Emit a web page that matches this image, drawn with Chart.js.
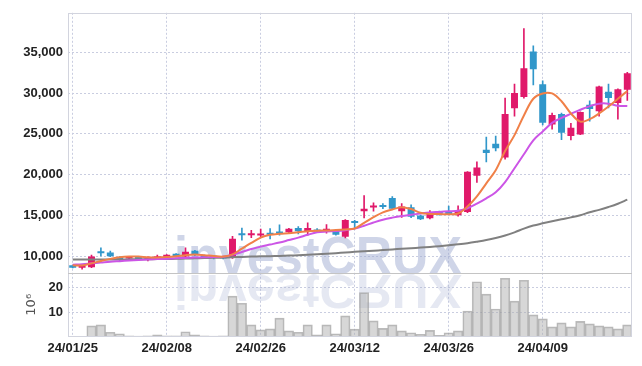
<!DOCTYPE html>
<html>
<head>
<meta charset="utf-8">
<script src="https://cdn.jsdelivr.net/npm/chart.js@4.4.1/dist/chart.umd.min.js"></script>
<style>
  html, body { margin: 0; padding: 0; background: #fff; }
  #cadre { width: 642px; height: 366px; }
</style>
</head>
<body>
<div id="cadre"><canvas id="graphe"></canvas></div>
<script>
// ---- DONNÉES ----
const dates = [
  '24/01/25', '24/01/26', '24/01/29', '24/01/30', '24/01/31', '24/02/01', '24/02/02', '24/02/05', '24/02/06', '24/02/07',
  '24/02/08', '24/02/13', '24/02/14', '24/02/15', '24/02/16', '24/02/19', '24/02/20', '24/02/21', '24/02/22', '24/02/23',
  '24/02/26', '24/02/27', '24/02/28', '24/02/29', '24/03/04', '24/03/05', '24/03/06', '24/03/07', '24/03/08', '24/03/11',
  '24/03/12', '24/03/13', '24/03/14', '24/03/15', '24/03/18', '24/03/19', '24/03/20', '24/03/21', '24/03/22', '24/03/25',
  '24/03/26', '24/03/27', '24/03/28', '24/03/29', '24/04/01', '24/04/02', '24/04/03', '24/04/04', '24/04/05', '24/04/08',
  '24/04/09', '24/04/11', '24/04/12', '24/04/15', '24/04/16', '24/04/17', '24/04/18', '24/04/19', '24/04/22', '24/04/23'
]

const ouvertures = [
  8920, 8620, 8660, 10560, 10480, 9930, 9760, 9960, 9650, 9780,
  9880, 10330, 10000, 10700, 10120, 10000, 9980, 9800, 12750, 12580,
  12550, 12750, 12950, 12950, 13480, 13000, 13280, 13150, 13200, 12400,
  14200, 15520, 16000, 16150, 17150, 15520, 16030, 15000, 14680, 15380,
  15550, 15050, 15450, 19880, 23050, 23800, 22100, 28130, 29500, 35090,
  31080, 26140, 27440, 24730, 24930, 28570, 27770, 30150, 28770, 30390
]
const hauts = [
  8950, 8850, 10150, 11050, 10650, 9980, 9950, 10000, 9950, 10150,
  10220, 10350, 11050, 10750, 10150, 10050, 10000, 12450, 13480, 13200,
  13350, 13400, 13880, 13450, 13650, 14100, 13400, 13900, 13250, 14500,
  14420, 17450, 16550, 16480, 17330, 16480, 16300, 15050, 15600, 15550,
  16150, 16200, 20400, 21580, 24610, 24730, 29380, 31080, 37900, 35780,
  31500, 27560, 27560, 26300, 27700, 29050, 30850, 31080, 30500, 32540
]
const bas = [
  8600, 8450, 8630, 10050, 9980, 9450, 9700, 9620, 9450, 9700,
  9860, 9950, 9900, 10050, 9780, 9700, 9700, 9750, 12000, 12300,
  12400, 12150, 12600, 12850, 12750, 12600, 12950, 12850, 12600, 12250,
  13520, 14700, 15550, 15830, 15800, 14780, 14750, 14500, 14600, 15050,
  15100, 14920, 15350, 19070, 21580, 22910, 21890, 27160, 29380, 31000,
  26100, 25580, 24300, 24250, 24900, 26550, 27160, 28170, 26800, 29100
]
const clotures = [
  8620, 8720, 10000, 10400, 10030, 9620, 9880, 9660, 9800, 9880,
  10200, 10000, 10580, 10250, 9820, 9850, 9760, 12150, 12600, 12750,
  12800, 12650, 12800, 13400, 13080, 13480, 13050, 13350, 12650, 14450,
  14080, 15820, 16220, 16050, 15850, 16100, 14850, 14560, 15330, 15230,
  15180, 15550, 20350, 20890, 22650, 23230, 27440, 29990, 33020, 32900,
  26350, 27310, 25130, 25740, 27680, 28050, 30800, 29380, 30470, 32410
]

// volumes en millions
const volumes = [
  0, 0, 4.5, 4.9, 1.9, 1.3, 0.5, 0.4, 0.5, 0.9,
  0.5, 0.5, 2.1, 0.9, 0.5, 0.4, 0.5, 16.5, 13.6, 4.9,
  2.9, 3.3, 7.6, 2.5, 1.9, 4.9, 0.9, 4.9, 1.3, 8.5,
  3.2, 17.9, 6.5, 3.5, 4.9, 2.5, 1.7, 1.1, 2.7, 0.7,
  1.7, 2.5, 10.5, 22.3, 17.3, 11.3, 23.7, 14.5, 22.9, 8.9,
  7.3, 4.1, 5.7, 4.1, 6.3, 5.3, 4.5, 4.1, 3.3, 4.9
]

// moyennes mobiles (orange, violet, gris)
const mm5 = [
  8920, 8900, 9150, 9450, 9700, 9900, 9990, 9980, 9900, 9880,
  9930, 10020, 10150, 10220, 10150, 10050, 9980, 10250, 10950, 11650,
  12300, 12650, 12780, 12850, 12950, 13080, 13150, 13180, 13220, 13300,
  13420, 14100, 14800, 15400, 15750, 16030, 15800, 15350, 15200, 15180,
  15150, 15250, 16100, 17350, 18950, 20550, 22900, 24850, 27250, 29300,
  29950, 29950, 29000, 27500, 26500, 26800, 27500, 28350, 29300, 30250
]
const mm10 = [
  8980, 9050, 9150, 9250, 9350, 9420, 9490, 9550, 9610, 9670,
  9720, 9770, 9820, 9860, 9890, 9920, 9960, 10200, 10550, 10900,
  11200, 11450, 11700, 12000, 12300, 12650, 12950, 13050, 13100, 13200,
  13400, 13750, 14150, 14500, 14750, 14950, 15100, 15250, 15380, 15450,
  15520, 15600, 15900, 16450, 17100, 17850, 19100, 20800, 22500, 24200,
  25300, 26350, 26950, 27450, 27950, 28400, 28700, 28700, 28450, 28400
]
const mm60 = [
  9620, 9620, 9620, 9620, 9625, 9630, 9640, 9650, 9660, 9670,
  9690, 9710, 9740, 9770, 9800, 9830, 9860, 9900, 9940, 9980,
  10010, 10030, 10060, 10100, 10150, 10200, 10260, 10330, 10400, 10480,
  10560, 10630, 10700, 10780, 10860, 10940, 11000, 11080, 11160, 11250,
  11360, 11480, 11620, 11800, 12000, 12250, 12560, 12950, 13400, 13780,
  14050, 14300, 14550, 14780, 15050, 15400, 15700, 16050, 16450, 16950
]

const ticksPrix = [10000, 15000, 20000, 25000, 30000, 35000]
const ticksVolume = [10, 20]

// ---- COULEURS ----
const rouge = '#e0196a'
const bleu = '#3197ca'
const couleurs = clotures.map((c, i) => c >= ouvertures[i] ? rouge : bleu)
const grille = '#c9cde0'
const policeAxe = { family: "'Liberation Sans', Arial, sans-serif", size: 13, weight: 'bold' }

// ---- FILIGRANE + CADRE ----
const filigrane = {
  id: 'filigrane',
  beforeDatasetsDraw(chart) {
    const { ctx, chartArea: a } = chart
    const texte = 'investCRUX'
    ctx.save()
    ctx.beginPath()
    ctx.rect(a.left, a.top, a.width, a.height)
    ctx.clip()
    ctx.font = "bold 53px 'Liberation Sans', Arial, sans-serif"
    const largeur = ctx.measureText(texte).width
    ctx.translate(a.left + 106, chart.scales.y.bottom + 1)
    ctx.scale(288 / largeur, 1)
    ctx.fillStyle = 'rgba(160, 172, 210, 0.5)'
    ctx.fillText(texte, 0, 0)
    ctx.scale(1, -0.92)
    ctx.fillStyle = 'rgba(160, 172, 210, 0.28)'
    ctx.fillText(texte, 0, -2)
    ctx.restore()
  },
  afterDatasetsDraw(chart) {
    const { ctx, chartArea: a } = chart
    const bas = Math.round(chart.scales.y.bottom) + 0.5
    ctx.save()
    ctx.lineWidth = 1
    ctx.strokeStyle = '#d2d4de'
    ctx.strokeRect(Math.round(a.left) + 0.5, Math.round(a.top) + 0.5, Math.round(a.width) - 1, Math.round(a.height) - 1)
    ctx.strokeStyle = '#c4c4c4'
    ctx.beginPath()
    ctx.moveTo(a.left, bas)
    ctx.lineTo(a.right, bas)
    ctx.stroke()
    ctx.restore()
  }
}

// ---- GRAPHIQUE ----
new Chart(document.getElementById('graphe'), {
  type: 'bar',
  data: {
    labels: dates,
    datasets: [
      {
        type: 'line', label: 'MA5', data: mm5, yAxisID: 'y', order: 1,
        borderColor: '#f08048', borderWidth: 2, pointRadius: 0, tension: 0.35
      },
      {
        type: 'line', label: 'MA10', data: mm10, yAxisID: 'y', order: 1,
        borderColor: '#cc55e6', borderWidth: 2, pointRadius: 0, tension: 0.35
      },
      {
        type: 'line', label: 'MA60', data: mm60, yAxisID: 'y', order: 1,
        borderColor: '#808080', borderWidth: 2, pointRadius: 0, tension: 0.35
      },
      {
        label: 'corps', data: dates.map((d, i) => [ouvertures[i], clotures[i]]), yAxisID: 'y', order: 2,
        backgroundColor: couleurs, grouped: false, categoryPercentage: 1, barPercentage: 0.74, minBarLength: 2
      },
      {
        label: 'mèches', data: dates.map((d, i) => [bas[i], hauts[i]]), yAxisID: 'y', order: 3,
        backgroundColor: couleurs, grouped: false, barThickness: 1
      },
      {
        label: 'volume', data: volumes, yAxisID: 'yv', order: 4,
        backgroundColor: 'rgba(175, 175, 175, 0.5)', borderColor: 'rgba(150, 150, 150, 0.65)', borderWidth: 1,
        grouped: false, categoryPercentage: 1, barPercentage: 1
      }
    ]
  },
  options: {
    responsive: true,
    maintainAspectRatio: false,
    animation: false,
    layout: { padding: { top: 9, right: 10, left: 0, bottom: 0 } },
    plugins: { legend: { display: false }, tooltip: { enabled: false } },
    scales: {
      x: {
        offset: true,
        grid: { offset: false, color: grille, drawTicks: false },
        border: { display: false, dash: [2, 2] },
        ticks: {
          autoSkip: false, maxRotation: 0, padding: 4, color: '#222', font: policeAxe,
          callback: (v, i) => i % 10 === 0 ? dates[i] : null
        },
        afterFit: s => { s.height = 29 }
      },
      // le volume est déclaré avant le prix pour que le prix soit placé en haut
      yv: {
        position: 'left', stack: 'panneaux', stackWeight: 65,
        min: 0, max: 26,
        grid: { color: grille, drawTicks: false },
        border: { display: false, dash: [2, 2] },
        ticks: { padding: 5, color: '#222', font: policeAxe },
        afterBuildTicks: s => { s.ticks = ticksVolume.map(v => ({ value: v })) },
        title: {
          display: true, text: '10⁶', color: '#555',
          font: { family: "'DejaVu Sans', sans-serif", size: 13 },
          padding: { top: 24, bottom: 0 }
        },
        afterFit: s => { s.width = 68 }
      },
      y: {
        position: 'left', stack: 'panneaux', stackWeight: 262,
        min: 8025, max: 39820,
        grid: { color: grille, drawTicks: false },
        border: { display: false, dash: [2, 2] },
        ticks: {
          padding: 5, color: '#222', font: policeAxe,
          callback: v => v.toLocaleString('en-US')
        },
        afterBuildTicks: s => { s.ticks = ticksPrix.map(v => ({ value: v })) },
        afterFit: s => { s.width = 68 }
      }
    }
  },
  plugins: [filigrane]
})
</script>
</body>
</html>
